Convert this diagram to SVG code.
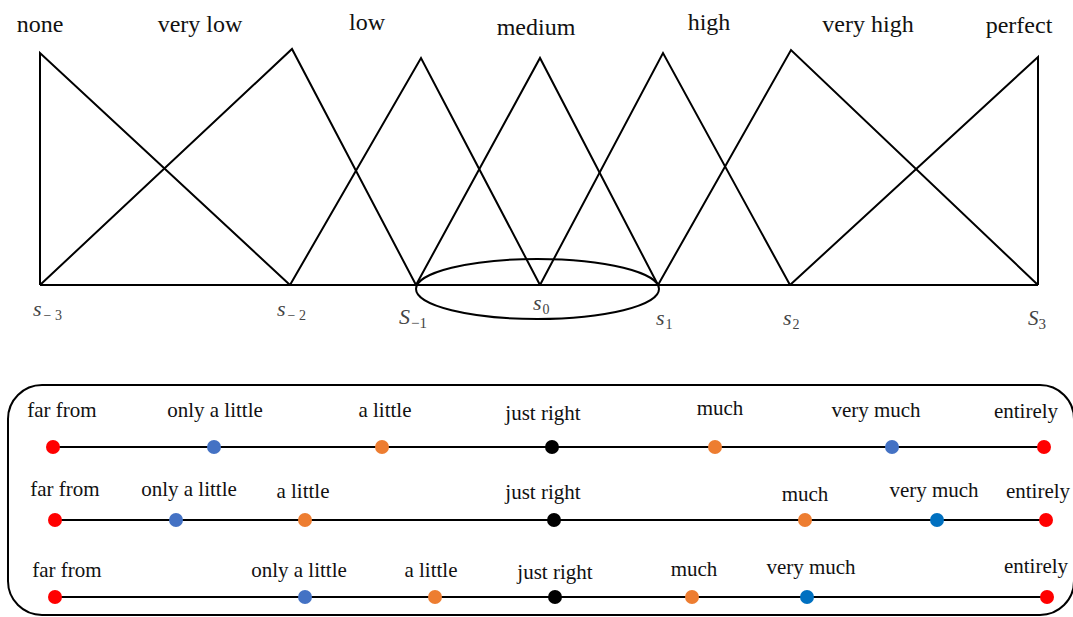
<svg xmlns="http://www.w3.org/2000/svg" width="1073" height="617" viewBox="0 0 1073 617">
<style>
.ln{stroke:#000;stroke-width:2;fill:none;stroke-linejoin:miter}
.lb{font-family:"Liberation Serif",serif;font-size:24px;fill:#111;text-anchor:middle}
.bl{font-family:"Liberation Serif",serif;font-size:21px;fill:#111;text-anchor:middle}
.s{font-family:"Liberation Serif",serif;font-style:italic;fill:#444}
.sub{font-family:"Liberation Serif",serif;fill:#444}
.row{stroke:#000;stroke-width:2}
.red{fill:#FF0000}.blu{fill:#4472C4}.org{fill:#ED7D31}.blk{fill:#000}.blu2{fill:#0070C0}
</style>
<rect width="1073" height="617" fill="#fff"/>
<g id="connectors">
<polyline class="ln" points="40,285 1038,285"/>
<polyline id="tri-none" class="ln" points="40,285 40,53 290,285"/>
<polyline id="tri-verylow" class="ln" points="40,285 292,49 416,285"/>
<polyline id="tri-low" class="ln" points="290,285 421,58 540,285"/>
<polyline id="tri-medium" class="ln" points="416,285 540,58 658,285"/>
<polyline id="tri-high" class="ln" points="540,285 663,53 790,285"/>
<polyline id="tri-veryhigh" class="ln" points="658,285 791,50 1038,285"/>
<polyline id="tri-perfect" class="ln" points="790,285 1038,57 1038,285"/>
<ellipse class="ln" cx="537.5" cy="289" rx="121.5" ry="30"/>
</g>
<g id="top-labels">
<text class="lb" x="40" y="32">none</text>
<text class="lb" x="200" y="32">very low</text>
<text class="lb" x="367" y="30">low</text>
<text class="lb" x="536" y="35">medium</text>
<text class="lb" x="709" y="30">high</text>
<text class="lb" x="868" y="32">very high</text>
<text class="lb" x="1019" y="33">perfect</text>
</g>
<g id="s-labels">
<text x="33" y="316"><tspan class="s" font-size="22">s</tspan><tspan class="sub" font-size="14" dx="2" dy="4">− 3</tspan></text>
<text x="277" y="316"><tspan class="s" font-size="22">s</tspan><tspan class="sub" font-size="14" dx="2" dy="4">− 2</tspan></text>
<text x="399" y="324"><tspan class="s" font-size="22">S</tspan><tspan class="sub" font-size="15" dx="1" dy="4">−1</tspan></text>
<text x="533" y="310"><tspan class="s" font-size="22">s</tspan><tspan class="sub" font-size="14" dx="1" dy="4">0</tspan></text>
<text x="656" y="325"><tspan class="s" font-size="22">s</tspan><tspan class="sub" font-size="14" dx="1" dy="4">1</tspan></text>
<text x="783" y="325"><tspan class="s" font-size="22">s</tspan><tspan class="sub" font-size="14" dx="1" dy="4">2</tspan></text>
<text x="1028" y="325"><tspan class="s" font-size="21">S</tspan><tspan class="sub" font-size="15" dx="0" dy="4">3</tspan></text>
</g>
<g id="panel">
<rect x="8" y="385" width="1066" height="230" rx="34" ry="34" class="ln"/>
</g>
<g id="row1">
<line class="row" x1="53" y1="447" x2="1044" y2="447"/>
<circle class="red" cx="53" cy="447" r="7"/><circle class="blu" cx="214" cy="447" r="7"/><circle class="org" cx="382" cy="447" r="7"/><circle class="blk" cx="552" cy="447" r="7"/><circle class="org" cx="715" cy="447" r="7"/><circle class="blu" cx="892" cy="447" r="7"/><circle class="red" cx="1044" cy="447" r="7"/>
<text class="bl" x="62" y="417">far from</text>
<text class="bl" x="215" y="417">only a little</text>
<text class="bl" x="385" y="417">a little</text>
<text class="bl" x="543" y="420">just right</text>
<text class="bl" x="720" y="415">much</text>
<text class="bl" x="876" y="417">very much</text>
<text class="bl" x="1026" y="418">entirely</text>
</g>
<g id="row2">
<line class="row" x1="55" y1="520" x2="1046" y2="520"/>
<circle class="red" cx="55" cy="520" r="7"/><circle class="blu" cx="176" cy="520" r="7"/><circle class="org" cx="305" cy="520" r="7"/><circle class="blk" cx="554" cy="520" r="7"/><circle class="org" cx="805" cy="520" r="7"/><circle class="blu2" cx="937" cy="520" r="7"/><circle class="red" cx="1046" cy="520" r="7"/>
<text class="bl" x="65" y="496">far from</text>
<text class="bl" x="189" y="496">only a little</text>
<text class="bl" x="303" y="498">a little</text>
<text class="bl" x="543" y="499">just right</text>
<text class="bl" x="805" y="501">much</text>
<text class="bl" x="934" y="497">very much</text>
<text class="bl" x="1038" y="498">entirely</text>
</g>
<g id="row3">
<line class="row" x1="55" y1="597" x2="1047" y2="597"/>
<circle class="red" cx="55" cy="597" r="7"/><circle class="blu" cx="305" cy="597" r="7"/><circle class="org" cx="435" cy="597" r="7"/><circle class="blk" cx="555" cy="597" r="7"/><circle class="org" cx="692" cy="597" r="7"/><circle class="blu2" cx="807" cy="597" r="7"/><circle class="red" cx="1047" cy="597" r="7"/>
<text class="bl" x="67" y="577">far from</text>
<text class="bl" x="299" y="577">only a little</text>
<text class="bl" x="431" y="577">a little</text>
<text class="bl" x="555" y="579">just right</text>
<text class="bl" x="694" y="576">much</text>
<text class="bl" x="811" y="574">very much</text>
<text class="bl" x="1036" y="573">entirely</text>
</g>
</svg>
